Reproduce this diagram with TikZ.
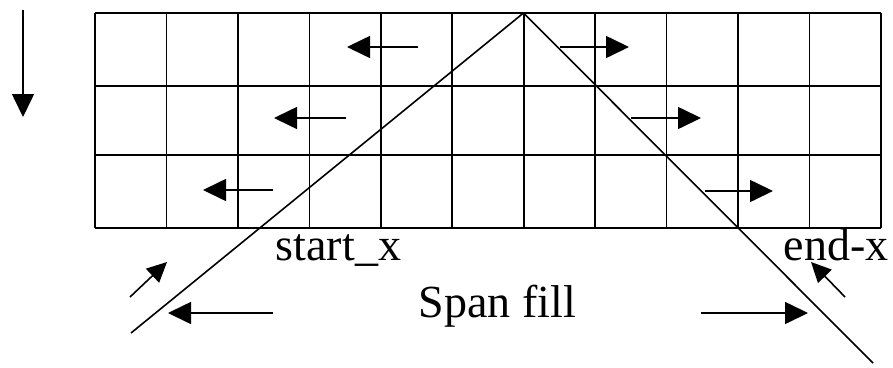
\documentclass[tikz,border=0pt]{standalone}
\usepackage{fontspec}
\setmainfont{Liberation Serif}
\usetikzlibrary{arrows.meta}
\begin{document}
\begin{tikzpicture}[x=1pt,y=-1pt,line width=1.6pt,
  arr/.style={-{Triangle[length=23pt,width=22pt]}},
  sarr/.style={-{Triangle[length=20pt,width=19pt]}},
  lbl/.style={anchor=base west,inner sep=0pt,font=\fontsize{46}{50}\selectfont}]
\useasboundingbox (0,0) rectangle (893,367);
% grid
\foreach \i in {0,...,11} \draw ({95+\i*71.45},13) -- ({95+\i*71.45},228);
\foreach \j in {13,86,155,228} \draw (95,\j) -- (881,\j);
% span lines
\coordinate (apex) at (523.5,13);
\coordinate (lend) at (131,333);
\coordinate (rend) at (873,363);
\draw (lend) -- (apex) -- (rend);
% down arrow
\coordinate (d1) at (23,10); \coordinate (d2) at (23,117);
\draw[arr] (d1) -- (d2);
% row arrows
\coordinate (a1s) at (418,47); \coordinate (a1e) at (347,47);
\coordinate (b1s) at (560,47); \coordinate (b1e) at (629,47);
\coordinate (a2s) at (346,118); \coordinate (a2e) at (274,118);
\coordinate (b2s) at (631,118); \coordinate (b2e) at (701,118);
\coordinate (a3s) at (273,190); \coordinate (a3e) at (203,190);
\coordinate (b3s) at (705,191); \coordinate (b3e) at (773,191);
\draw[arr] (a1s) -- (a1e);
\draw[arr] (b1s) -- (b1e);
\draw[arr] (a2s) -- (a2e);
\draw[arr] (b2s) -- (b2e);
\draw[arr] (a3s) -- (a3e);
\draw[arr] (b3s) -- (b3e);
% bottom arrows
\coordinate (ls) at (273,313); \coordinate (le) at (168,313);
\coordinate (rs) at (701,313); \coordinate (re) at (808,313);
\draw[arr] (ls) -- (le);
\draw[arr] (rs) -- (re);
% small diagonal arrows
\coordinate (ds1) at (130,297); \coordinate (de1) at (167,262);
\coordinate (ds2) at (845,297); \coordinate (de2) at (811,262);
\draw[sarr] (ds1) -- (de1);
\draw[sarr] (ds2) -- (de2);
% labels
\node[lbl] (startx) at (275,260) {start\_x};
\node[lbl] (span) at (418,317) {Span fill};
\node[lbl] (endx) at (783,260) {end-x};
\end{tikzpicture}
\end{document}
